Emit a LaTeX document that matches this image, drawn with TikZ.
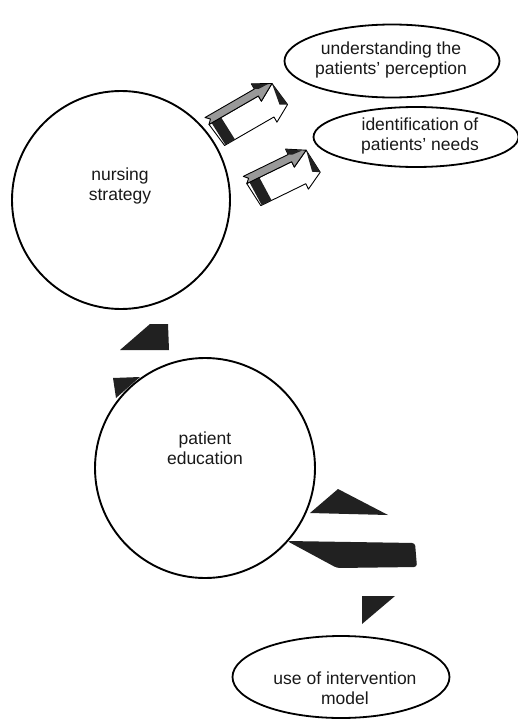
\documentclass[tikz,border=0pt]{standalone}
\usepackage{fontspec}
\setmainfont{Liberation Sans}
\usetikzlibrary{shapes.geometric}
\tikzset{
  circ/.style={circle,draw,line width=1.9pt,minimum size=#1,inner sep=0pt},
  ell/.style={ellipse,draw,line width=1.8pt,inner sep=0pt},
  lbl/.style={align=center,font=\fontsize{17.5}{20.5}\selectfont,text=black!90,inner sep=0pt},
  dark/.style={fill=black!87,draw=none},
  sideface/.style={fill=white,draw=black,line width=0.9pt,line join=round},
  topface/.style={fill=black!40,draw=black,line width=0.9pt,line join=round},
}
\newcommand\myarrow[1]{%
  % #1 = length
  \pgfmathsetmacro\La{#1}\pgfmathsetmacro\Lb{#1-18}
  \path[sideface] (0,4) -- (\Lb,4) -- (\Lb,10) -- (\La,0) -- (\La+3,26) -- (\Lb+3,36) -- (\Lb+3,30) -- (3,30) -- cycle;
  \path[dark] (3,4) -- (14,4) -- (15,30) -- (4,30) -- cycle;
  \path[dark] (\La,0) -- (\La+3,26) -- (\La-4,22) -- cycle;
  \path[topface] (0,-4) -- (\Lb,-4) -- (\Lb,-10) -- (\La,0) -- (\Lb,10) -- (\Lb,4) -- (0,4) -- (4,0) -- cycle;
  \path[dark] (\Lb,-4) -- (\Lb,-10) -- (\La-4,-1.5) -- (\Lb+4,-2) -- cycle;
}
\begin{document}
\begin{tikzpicture}[x=1pt,y=-1pt]
\useasboundingbox (0,0) rectangle (517,720);
\fill[white] (0,0) rectangle (517,720);

% main circles
\node[circ=218pt] (ns) at (121,200) {};
\node[lbl] (nst) at (120,186) {nursing\\strategy};
\node[circ=220pt] (pe) at (205,468) {};
\node[lbl] (pet) at (205,448) {patient\\education};

% ellipses
\node[ell,minimum width=215pt,minimum height=73pt] (e1) at (392,61) {};
\node[lbl] (e1t) at (391,60) {understanding the\\patients' perception};
\node[ell,minimum width=205pt,minimum height=60pt] (e2) at (416,137) {};
\node[lbl] (e2t) at (420,136) {identification of\\patients' needs};
\node[ell,minimum width=217pt,minimum height=82pt] (e3) at (341,677) {};
\node[lbl] (e3t) at (345,688) {use of intervention\\model};

% 3D arrows toward the ellipses
\begin{scope}[shift={(207,121)},rotate=30]
  \myarrow{75}
\end{scope}
\begin{scope}[shift={(245,180)},rotate=26]
  \myarrow{68}
\end{scope}

% dark fragments between the circles
\path[dark] (120,350) -- (150,324) -- (168,324) -- (169,350) -- cycle;
\path[dark] (113,378) -- (140,377) -- (116,398) -- cycle;
\path[dark] (310,513) -- (338,489) -- (388,515) -- cycle;
\path[dark,rounded corners=3pt] (287,541) -- (415,543) -- (417,567) -- (337,568) -- cycle;
\path[dark] (362,596) -- (395,596) -- (362,624) -- cycle;
\end{tikzpicture}
\end{document}
